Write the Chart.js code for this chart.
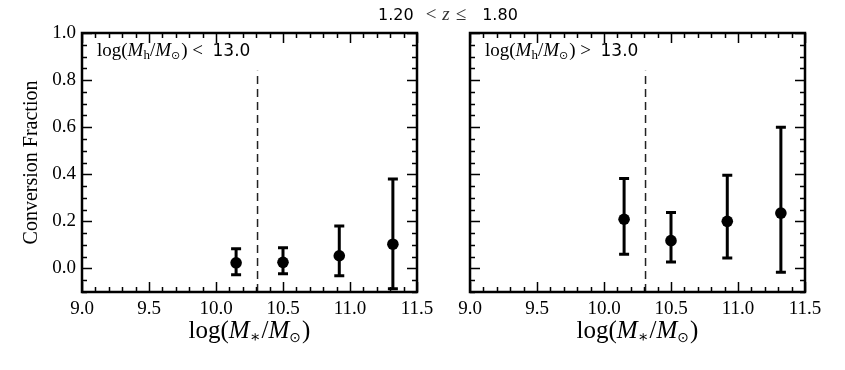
<!DOCTYPE html>
<html>
<head>
<meta charset="utf-8">
<script src="https://cdn.jsdelivr.net/npm/chart.js@4.4.0/dist/chart.umd.min.js"></script>
<style>
	body { margin: 0; background: #fff; }
	#wrap { position: relative; width: 845px; height: 370px; overflow: hidden; }
	canvas { position: absolute; top: 0; }
	#left-panel { left: 0; }
	#right-panel { left: 430px; }
	#z-title { position: absolute; left: 378px; top: 4px; white-space: nowrap; color: #000; line-height: 20px; }
	#z-title .num { font-family: 'DejaVu Sans', sans-serif; font-size: 16px; }
	#z-title .op { font-family: 'Liberation Serif', serif; font-size: 19px; color: #333; }
	#z-title .var { font-family: 'Liberation Serif', serif; font-size: 19px; font-style: italic; color: #333; }
</style>
</head>
<body>
<div id="wrap">
	<canvas id="left-panel" width="460" height="370"></canvas>
	<canvas id="right-panel" width="415" height="370"></canvas>
	<div id="z-title"><span class="num">1.20</span><span class="op" style="margin-left:12px">&lt;</span><span class="var" style="margin-left:6px">z</span><span class="op" style="margin-left:6px">≤</span><span class="num" style="margin-left:16px">1.80</span></div>
</div>
<script>
// stellar mass bins, log(M*/Msun)
const massBins = [10.15, 10.50, 10.92, 11.32];

// log(Mh/Msun) < 13.0
const lowHaloFrac = [0.024, 0.026, 0.054, 0.103];
const lowHaloLo = [-0.027, -0.023, -0.031, -0.086];
const lowHaloHi = [0.084, 0.088, 0.180, 0.380];

// log(Mh/Msun) > 13.0
const highHaloFrac = [0.209, 0.118, 0.200, 0.235];
const highHaloLo = [0.060, 0.027, 0.044, -0.016];
const highHaloHi = [0.382, 0.238, 0.396, 0.600];

// mass completeness cut
const cutMass = 10.31;
const cutTop = 0.84;

const xTicks = [9.0, 9.5, 10.0, 10.5, 11.0, 11.5];
const yTicks = [0.0, 0.2, 0.4, 0.6, 0.8, 1.0];
const xMin = 9.0, xMax = 11.5, yMin = -0.1, yMax = 1.0;
const xMinorStep = 0.1, yMinorStep = 0.05;

const SERIF = "'Liberation Serif', 'DejaVu Serif', serif";
const SANS = "'DejaVu Sans', sans-serif";

function drawRich(ctx, parts, x, y, align) {
	let total = 0;
	parts.forEach((p) => {
		ctx.font = p.font;
		p.w = ctx.measureText(p.text).width + (p.gap || 0);
		total += p.w;
	});
	let cx = align === 'center' ? x - total / 2 : x;
	ctx.textBaseline = 'alphabetic';
	ctx.textAlign = 'left';
	parts.forEach((p) => {
		ctx.font = p.font;
		ctx.fillStyle = p.color || '#000';
		ctx.fillText(p.text, cx, y + (p.dy || 0));
		cx += p.w;
	});
}

const errorBars = {
	id: 'errorBars',
	beforeDatasetsDraw(chart, args, opts) {
		const ctx = chart.ctx;
		const xs = chart.scales.x, ys = chart.scales.y;
		ctx.save();
		ctx.strokeStyle = '#000';
		ctx.lineWidth = 3;
		massBins.forEach((m, i) => {
			const px = xs.getPixelForValue(m);
			const top = ys.getPixelForValue(opts.hi[i]);
			const bot = ys.getPixelForValue(opts.lo[i]);
			ctx.beginPath();
			ctx.moveTo(px, top);
			ctx.lineTo(px, bot);
			ctx.moveTo(px - 5, top);
			ctx.lineTo(px + 5, top);
			ctx.moveTo(px - 5, bot);
			ctx.lineTo(px + 5, bot);
			ctx.stroke();
		});
		ctx.restore();
	}
};

const frame = {
	id: 'frame',
	afterDraw(chart, args, opts) {
		const ctx = chart.ctx;
		const { left, right, top, bottom } = chart.chartArea;
		const xs = chart.scales.x, ys = chart.scales.y;
		ctx.save();
		ctx.strokeStyle = '#000';
		ctx.lineWidth = 1.5;
		ctx.beginPath();
		for (let v = xMin; v <= xMax + 1e-9; v += xMinorStep) {
			const major = xTicks.some((t) => Math.abs(t - v) < 1e-6);
			const len = major ? 10 : 5;
			const px = Math.round(xs.getPixelForValue(v)) + 0.5;
			ctx.moveTo(px, bottom); ctx.lineTo(px, bottom - len);
			ctx.moveTo(px, top); ctx.lineTo(px, top + len);
		}
		for (let v = yMin; v <= yMax + 1e-9; v += yMinorStep) {
			const major = yTicks.some((t) => Math.abs(t - v) < 1e-6);
			const len = major ? 10 : 5;
			const py = Math.round(ys.getPixelForValue(v)) + 0.5;
			ctx.moveTo(left, py); ctx.lineTo(left + len, py);
			ctx.moveTo(right, py); ctx.lineTo(right - len, py);
		}
		ctx.stroke();
		ctx.lineWidth = 2.5;
		ctx.strokeRect(left, top, right - left, bottom - top);

		// x axis title
		drawRich(ctx, [
			{ text: 'log(', font: `25px ${SERIF}` },
			{ text: 'M', font: `italic 25px ${SERIF}` },
			{ text: '∗', font: `16px ${SERIF}`, dy: 4, gap: 1 },
			{ text: '/', font: `25px ${SERIF}` },
			{ text: 'M', font: `italic 25px ${SERIF}` },
			{ text: '⊙', font: `14px ${SANS}`, dy: 4, gap: 1 },
			{ text: ')', font: `25px ${SERIF}` }
		], (left + right) / 2, 338, 'center');

		// halo mass label
		drawRich(ctx, [
			{ text: 'log(', font: `19px ${SERIF}` },
			{ text: 'M', font: `italic 19px ${SERIF}` },
			{ text: 'h', font: `13px ${SERIF}`, dy: 3 },
			{ text: '/', font: `19px ${SERIF}` },
			{ text: 'M', font: `italic 19px ${SERIF}` },
			{ text: '⊙', font: `11px ${SANS}`, dy: 3, gap: 1 },
			{ text: ') ' + opts.sign + '  ', font: `19px ${SERIF}` },
			{ text: '13.0', font: `17px ${SANS}` }
		], left + 15, top + 23, 'left');
		ctx.restore();
	}
};

function makePanel(canvasId, frac, lo, hi, sign, isLeft) {
	const ctx = document.getElementById(canvasId);
	const points = massBins.map((m, i) => ({ x: m, y: frac[i] }));
	const cutLine = [{ x: cutMass, y: yMin }, { x: cutMass, y: cutTop }];

	return new Chart(ctx, {
		type: 'scatter',
		data: {
			datasets: [
				{
					data: points,
					pointRadius: 5.8,
					pointHoverRadius: 5.8,
					backgroundColor: '#000',
					borderWidth: 0
				},
				{
					type: 'line',
					data: cutLine,
					borderColor: '#222',
					borderWidth: 1.5,
					borderDash: [8, 5],
					pointRadius: 0,
					fill: false
				}
			]
		},
		plugins: [errorBars, frame],
		options: {
			responsive: false,
			animation: false,
			layout: { padding: { left: 0, top: 33, right: isLeft ? 43 : 40, bottom: 0 } },
			scales: {
				x: {
					type: 'linear',
					min: xMin,
					max: xMax,
					afterBuildTicks: (s) => { s.ticks = xTicks.map((v) => ({ value: v })); },
					afterFit: (s) => { s.height = 78; },
					grid: { display: false, drawTicks: false },
					border: { display: false },
					ticks: {
						autoSkip: false,
						maxRotation: 0,
						padding: 6,
						color: '#000',
						font: { family: SERIF, size: 19 },
						callback: (v) => Number(v).toFixed(1)
					}
				},
				y: {
					type: 'linear',
					min: yMin,
					max: yMax,
					afterBuildTicks: (s) => { s.ticks = yTicks.map((v) => ({ value: v })); },
					afterFit: (s) => { s.width = isLeft ? 82 : 40; },
					grid: { display: false, drawTicks: false },
					border: { display: false },
					ticks: {
						display: isLeft,
						padding: 6,
						color: '#000',
						font: { family: SERIF, size: 19 },
						callback: (v) => Number(v).toFixed(1)
					},
					title: {
						display: isLeft,
						text: 'Conversion Fraction',
						color: '#000',
						font: { family: SERIF, size: 20 },
						padding: { top: 20, bottom: 0 }
					}
				}
			},
			plugins: {
				legend: { display: false },
				tooltip: { enabled: false },
				errorBars: { lo: lo, hi: hi },
				frame: { sign: sign }
			}
		}
	});
}

makePanel('left-panel', lowHaloFrac, lowHaloLo, lowHaloHi, '<', true);
makePanel('right-panel', highHaloFrac, highHaloLo, highHaloHi, '>', false);
</script>
</body>
</html>
